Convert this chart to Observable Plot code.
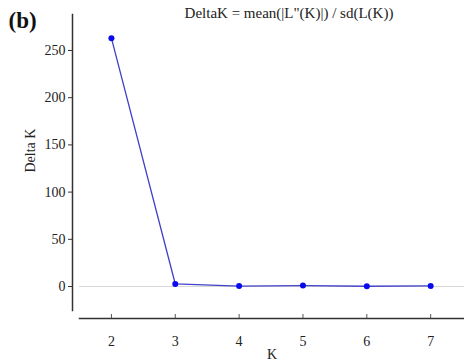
<!DOCTYPE html>
<html>
<head>
<meta charset="utf-8">
<script src="https://cdn.jsdelivr.net/npm/d3@7"></script>
<script src="https://cdn.jsdelivr.net/npm/@observablehq/plot@0.6"></script>
<style>
  html, body { margin: 0; padding: 0; background: #fff; }
  #chart svg { display: block; }
  #chart svg, #chart svg text { font-family: 'Liberation Serif', 'Times New Roman', serif !important; }
</style>
</head>
<body>
<div id="chart"></div>
<script>
const kValues = [2, 3, 4, 5, 6, 7];
const deltaK = [263, 2.7, 0.5, 1.0, 0.3, 0.6];
const yTicks = [0, 50, 100, 150, 200, 250];
const title = "DeltaK = mean(|L\"(K)|) / sd(L(K))";
const panelLabel = "(b)";

const data = kValues.map((k, i) => ({K: k, dK: deltaK[i]}));
const font = "'Liberation Serif', 'Times New Roman', serif";

const chart = Plot.plot({
  width: 464,
  height: 362,
  marginLeft: 79,
  marginRight: 0,
  marginTop: 14,
  marginBottom: 52,
  style: {fontFamily: font, fontSize: "14px", color: "#222", background: "#fff"},
  x: {domain: [1.5, 7.53]},
  y: {domain: [-25.4, 288.1]},
  marks: [
    Plot.ruleY([0], {stroke: "#d8d8d8", strokeWidth: 1.2}),
    Plot.frame({anchor: "left", dx: -7, stroke: "#333", strokeWidth: 1.5}),
    Plot.frame({anchor: "bottom", dy: 8, stroke: "#333", strokeWidth: 1.5}),
    Plot.axisY(yTicks, {dx: -7, tickSize: 4, tickPadding: 3, stroke: "#333", fontSize: 14, fontFamily: font, label: null}),
    Plot.axisX(kValues, {dy: 8, tickSize: -4, tickPadding: 22, stroke: "#555", fontSize: 14, fontFamily: font, label: null}),
    Plot.text([panelLabel], {frameAnchor: "top-left", dx: -71, dy: 6, text: d => d, textAnchor: "start", lineAnchor: "middle", fontSize: 23, fontWeight: "bold", fontFamily: font, fill: "#111"}),
    Plot.text([title], {frameAnchor: "top", dx: 17, dy: -1, text: d => d, lineAnchor: "middle", fontSize: 15, fontFamily: font, fill: "#222"}),
    Plot.text(["Delta K"], {frameAnchor: "left", dx: -49, dy: 10, text: d => d, rotate: -90, fontSize: 14, fontFamily: font, fill: "#222"}),
    Plot.text(["K"], {frameAnchor: "bottom", dy: 44, text: d => d, lineAnchor: "middle", fontSize: 14, fontFamily: font, fill: "#222"}),
    Plot.line(data, {x: "K", y: "dK", stroke: "#4040c8", strokeWidth: 1.3}),
    Plot.dot(data, {x: "K", y: "dK", r: 3, fill: "#0a0aee", stroke: "none"})
  ]
});
document.getElementById("chart").appendChild(chart);
</script>
</body>
</html>
